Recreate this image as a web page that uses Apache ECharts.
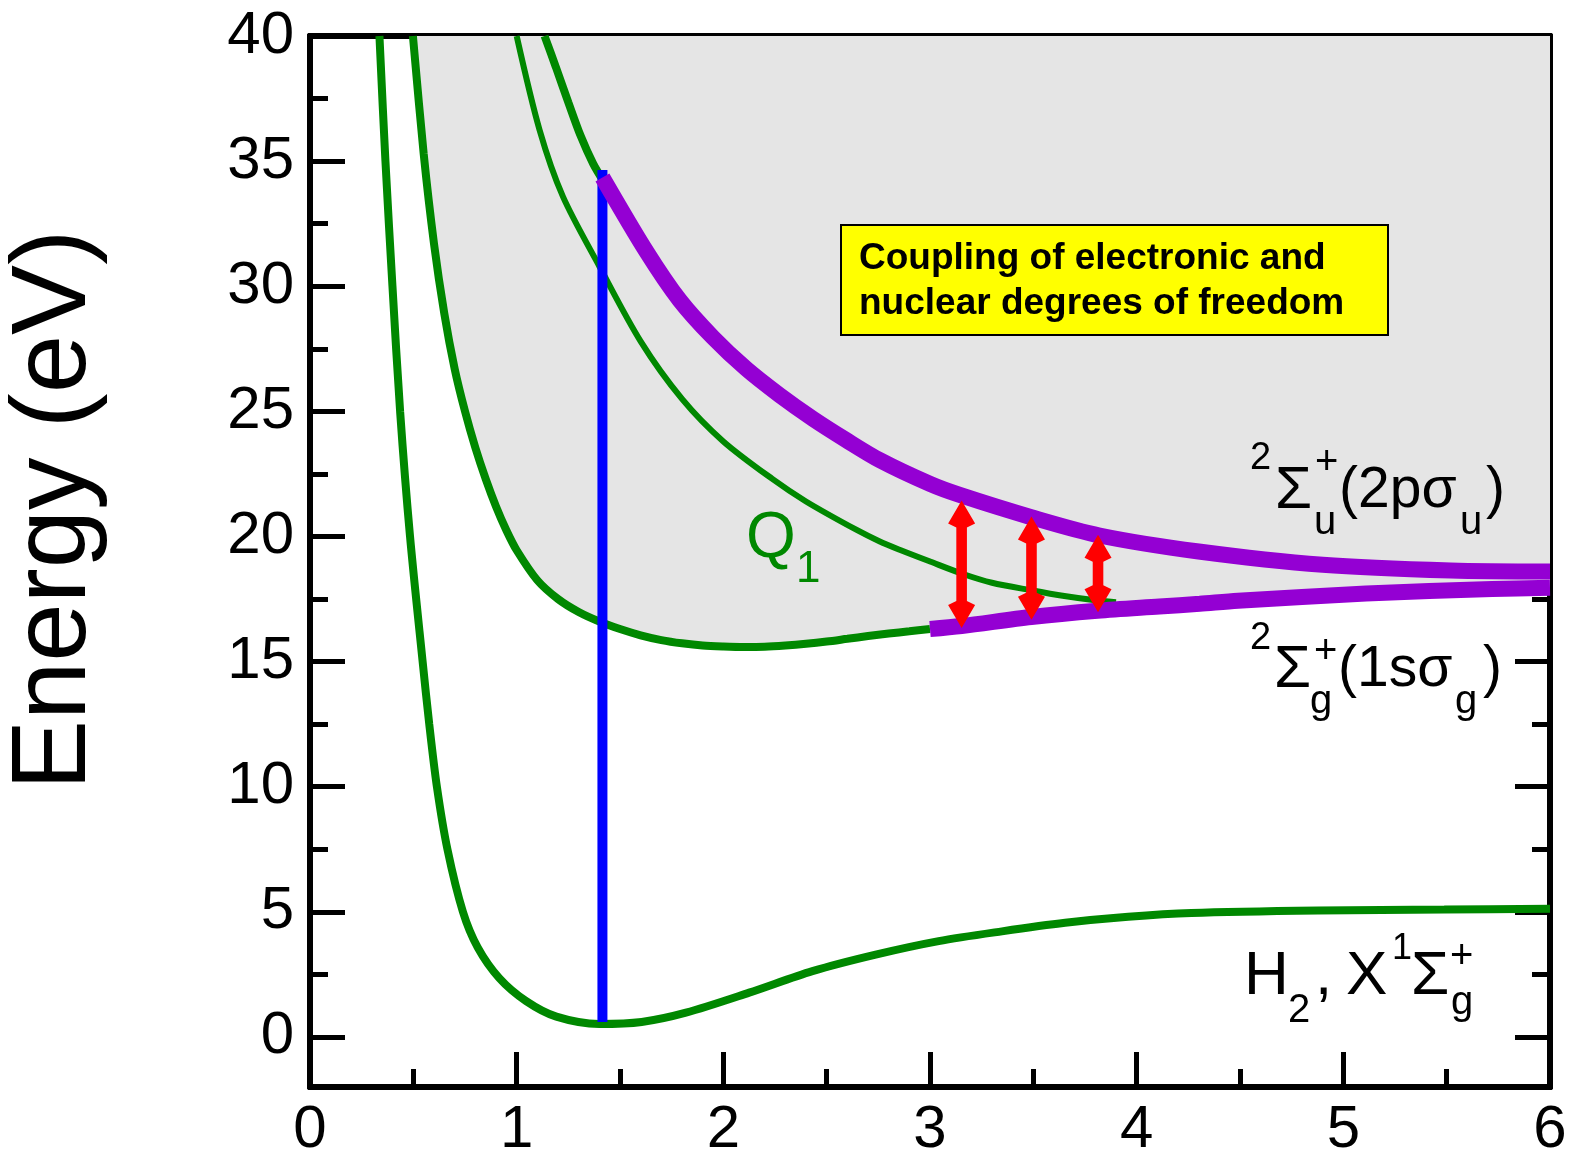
<!DOCTYPE html>
<html>
<head>
<meta charset="utf-8">
<script src="https://cdn.jsdelivr.net/npm/echarts/dist/echarts.min.js"></script>
<style>
  html, body { margin: 0; padding: 0; background: #ffffff; }
  #chart { width: 1574px; height: 1157px; }
</style>
</head>
<body>
<div id="chart"></div>
<script>
// Potential energy curves of H2 / H2+ : internuclear distance R vs energy (eV)

// H2 ground state X 1Σg+
const groundX = [
  [0.336, 40], [0.365, 35], [0.399, 30], [0.436, 25], [0.484, 20], [0.545, 15],
  [0.577, 12.5], [0.614, 10], [0.665, 7.5], [0.740, 5.0], [0.812, 3.57], [0.917, 2.34],
  [1.046, 1.43], [1.192, 0.81], [1.400, 0.52], [1.605, 0.60], [1.819, 0.97], [2.125, 1.77],
  [2.431, 2.63], [2.737, 3.29], [3.042, 3.83], [3.348, 4.22], [3.654, 4.56], [3.959, 4.80],
  [4.265, 4.95], [4.877, 5.05], [5.488, 5.09], [6.0, 5.12]
];

// Q1 curve (lower edge of the continuum), up to R = 3
const q1Curve = [
  [0.498, 40], [0.55, 35.3], [0.60, 31.7], [0.65, 28.9], [0.70, 26.7], [0.75, 25.0],
  [0.80, 23.55], [0.85, 22.3], [0.90, 21.2], [0.95, 20.25], [1.0, 19.45], [1.1, 18.25],
  [1.2, 17.5], [1.3, 16.98], [1.4, 16.6], [1.5, 16.3], [1.6, 16.05], [1.7, 15.86],
  [1.8, 15.73], [1.9, 15.64], [2.0, 15.6], [2.1, 15.58], [2.2, 15.59], [2.3, 15.64],
  [2.4, 15.71], [2.5, 15.8], [2.6, 15.91], [2.7, 16.02], [2.8, 16.12], [2.9, 16.21],
  [3.0, 16.3]
];

// intermediate curve merging into 1sσg
const midCurve = [
  [1.0, 40], [1.111, 36.24], [1.224, 33.58], [1.40, 30.8], [1.6, 27.8], [1.8, 25.5],
  [2.0, 23.8], [2.237, 22.3], [2.4, 21.4], [2.643, 20.27], [2.757, 19.8], [2.853, 19.47],
  [3.0, 19.0], [3.16, 18.5], [3.3, 18.15], [3.49, 17.85], [3.65, 17.62], [3.79, 17.46],
  [3.90, 17.37]
];

// repulsive branch above the 2pσu start
const upperGreen = [
  [1.135, 40], [1.19, 38.75], [1.25, 37.35], [1.31, 36.0], [1.37, 34.9], [1.42, 34.2]
];

// H2+ 2Σu+(2pσu)
const sigmaU = [
  [1.415, 34.35], [1.627, 31.4], [1.788, 29.45], [1.95, 27.95], [2.111, 26.7], [2.272, 25.65],
  [2.434, 24.7], [2.595, 23.85], [2.757, 23.05], [3.0, 22.1], [3.14, 21.67],
  [3.49, 20.77], [3.82, 20.04], [4.30, 19.4], [4.90, 18.87], [5.52, 18.64], [6.0, 18.6]
];

// H2+ 2Σg+(1sσg), R >= 3
const sigmaG = [
  [3.0, 16.3], [3.153, 16.42], [3.49, 16.78], [3.81, 17.03], [4.11, 17.2], [4.305, 17.31],
  [4.49, 17.43], [5.11, 17.72], [5.72, 17.9], [6.0, 17.95]
];

// vertical (Franck–Condon) transition at the ground-state equilibrium distance
const verticalTransition = [[1.415, 0.6], [1.415, 34.65]];

// coupling arrows: [R, lower tip, upper tip]
const couplingArrows = [
  [3.153, 16.34, 21.44],
  [3.491, 16.67, 20.80],
  [3.813, 16.97, 20.07]
];

const xMin = 0, xMax = 6;
const yMin = -2, yMax = 40;
const yMajorTicks = [0, 5, 10, 15, 20, 25, 30, 35, 40];
const yMinorTicks = [2.5, 7.5, 12.5, 17.5, 22.5, 27.5, 32.5, 37.5];

const GREEN = '#008800';
const PURPLE = '#9400d3';
const FONT = '"Liberation Sans", Arial, Helvetica, sans-serif';

const chart = echarts.init(document.getElementById('chart'), null, { renderer: 'canvas' });

const frameLine = { show: true, onZero: false, lineStyle: { color: '#000', width: 6 } };
const tickStyle = { color: '#000', width: 5 };

function xAxisDef(position, interval, len, withLabels) {
  return {
    type: 'value', position: position, min: xMin, max: xMax, interval: interval,
    axisLine: frameLine,
    axisTick: { show: true, inside: true, length: len, lineStyle: tickStyle },
    axisLabel: withLabels
      ? { show: true, margin: 13, fontSize: 60, color: '#000', fontFamily: FONT }
      : { show: false },
    splitLine: { show: false }
  };
}
function yAxisDef(position, ticks, len, withLabels) {
  return {
    type: 'value', position: position, min: yMin, max: yMax,
    axisLine: frameLine,
    axisTick: { show: true, inside: true, length: len, lineStyle: tickStyle, customValues: ticks },
    axisLabel: withLabels
      ? { show: true, margin: 16, fontSize: 60, color: '#000', fontFamily: FONT, customValues: ticks }
      : { show: false },
    splitLine: { show: false }
  };
}

function curve(name, data, color, width, z) {
  return {
    name: name, type: 'line', data: data, xAxisIndex: 0, yAxisIndex: 0,
    smooth: 0.3, symbol: 'none', showSymbol: false, z: z,
    lineStyle: { color: color, width: width, cap: 'butt' },
    emphasis: { disabled: true }, silent: true
  };
}

// superscripts / subscripts as separate text pieces
function piece(text, x, y, size, color) {
  return {
    type: 'text', z: 100,
    style: {
      text: text, x: x, y: y, fill: color || '#000',
      font: size + 'px ' + FONT,
      textAlign: 'left', align: 'left', textVerticalAlign: 'middle', verticalAlign: 'middle'
    }
  };
}

const labelPieces = [
  // 2Σu+(2pσu)
  piece('2', 1250, 459, 38), piece('Σ', 1275, 491, 60), piece('+', 1315, 463, 40),
  piece('u', 1314, 523, 40), piece('(2pσ', 1339, 491, 57), piece('u', 1460, 523, 40),
  piece(')', 1486, 491, 57),
  // 2Σg+(1sσg)
  piece('2', 1250, 639, 38), piece('Σ', 1274, 670, 60), piece('+', 1314, 652, 40),
  piece('g', 1310, 702, 40), piece('(1sσ', 1338, 670, 57), piece('g', 1455, 702, 40),
  piece(')', 1483, 670, 57),
  // H2, X1Σg+
  piece('H', 1244, 977, 62), piece('2', 1288, 1011, 40), piece(',', 1315, 977, 62),
  piece('X', 1346, 977, 62), piece('1', 1392, 949, 36), piece('Σ', 1411, 977, 62),
  piece('g', 1451, 1003, 40), piece('+', 1450, 957, 40),
  // Q1
  piece('Q', 746, 539, 64, GREEN), piece('1', 796, 570, 44, GREEN)
];

const option = {
  animation: false,
  backgroundColor: '#ffffff',
  grid: { left: 310, top: 36, right: 24, bottom: 70, containLabel: false, outerBoundsMode: 'none' },
  xAxis: [
    xAxisDef('bottom', 1, 35, true),
    xAxisDef('bottom', 0.5, 18, false),
    xAxisDef('top', 1, 35, false),
    xAxisDef('top', 0.5, 18, false)
  ],
  yAxis: [
    yAxisDef('left', yMajorTicks, 35, true),
    yAxisDef('left', yMinorTicks, 18, false),
    yAxisDef('right', yMajorTicks, 35, false),
    yAxisDef('right', yMinorTicks, 18, false)
  ],
  series: [
    // shaded continuum above Q1 / 1sσg
    {
      name: 'continuum', type: 'line', xAxisIndex: 0, yAxisIndex: 0,
      data: q1Curve.concat(sigmaG.slice(1)),
      smooth: 0.3, symbol: 'none', showSymbol: false, z: 1, silent: true,
      lineStyle: { width: 0, opacity: 0 },
      areaStyle: { color: '#e5e5e5', origin: 'end', opacity: 1 }
    },
    curve('X1Σg+', groundX, GREEN, 8, 3),
    curve('Q1', q1Curve, GREEN, 8, 3),
    curve('mid', midCurve, GREEN, 6, 3),
    curve('upper', upperGreen, GREEN, 8, 3),
    {
      name: 'vertical', type: 'line', data: verticalTransition, xAxisIndex: 0, yAxisIndex: 0,
      symbol: 'none', showSymbol: false, z: 4, silent: true,
      lineStyle: { color: '#0000ff', width: 10, cap: 'butt' }
    },
    curve('2pσu', sigmaU, PURPLE, 16, 5),
    curve('1sσg', sigmaG, PURPLE, 16, 5),
    {
      name: 'coupling', type: 'custom', xAxisIndex: 0, yAxisIndex: 0, z: 8, silent: true,
      data: couplingArrows,
      renderItem: function (params, api) {
        const r = api.value(0), lo = api.value(1), hi = api.value(2);
        const top = api.coord([r, hi]);
        const bot = api.coord([r, lo]);
        const cx = top[0], t = top[1], b = bot[1];
        const hw = 13.5, hl = 23, sw = 5.3, notch = 4;
        const pts = [
          [cx, t], [cx + hw, t + hl], [cx + sw, t + hl + notch],
          [cx + sw, b - hl - notch], [cx + hw, b - hl], [cx, b],
          [cx - hw, b - hl], [cx - sw, b - hl - notch],
          [cx - sw, t + hl + notch], [cx - hw, t + hl]
        ];
        return { type: 'polygon', shape: { points: pts }, style: { fill: '#ff0000' } };
      }
    }
  ],
  graphic: [
    {
      type: 'text', x: 56, y: 510, rotation: Math.PI / 2, z: 100,
      style: {
        text: 'Energy (eV)', x: 0, y: 0, fill: '#000',
        font: '105px ' + FONT,
        textAlign: 'center', align: 'center', textVerticalAlign: 'middle', verticalAlign: 'middle'
      }
    },
    {
      type: 'rect', z: 90,
      shape: { x: 841, y: 225, width: 547, height: 110 },
      style: { fill: '#ffff00', stroke: '#000', lineWidth: 2 }
    },
    {
      type: 'text', z: 100,
      style: {
        text: 'Coupling of electronic and', x: 859, y: 259, fill: '#000',
        font: 'bold 37px ' + FONT,
        textAlign: 'left', align: 'left', textVerticalAlign: 'middle', verticalAlign: 'middle'
      }
    },
    {
      type: 'text', z: 100,
      style: {
        text: 'nuclear degrees of freedom', x: 859, y: 304, fill: '#000',
        font: 'bold 37px ' + FONT,
        textAlign: 'left', align: 'left', textVerticalAlign: 'middle', verticalAlign: 'middle'
      }
    }
  ].concat(labelPieces)
};

chart.setOption(option);
</script>
</body>
</html>
